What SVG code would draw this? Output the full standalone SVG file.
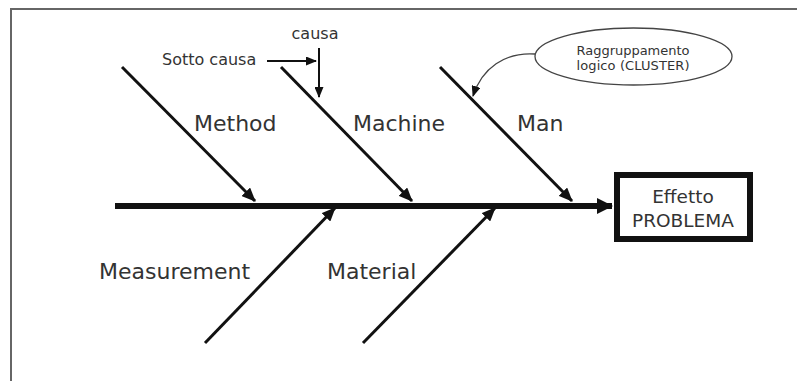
<svg xmlns="http://www.w3.org/2000/svg" width="797" height="381" viewBox="0 0 797 381">
  <style>
    .bone { stroke: #111; stroke-width: 3; fill: none; }
    .thin { stroke: #111; stroke-width: 2; fill: none; }
    .lbl { font-family: "DejaVu Sans", Verdana, sans-serif; fill: #333; }
    .cat { font-size: 22px; }
    .sub { font-size: 16px; }
  </style>
  <defs>
    <marker id="head" viewBox="0 0 14 12" refX="13" refY="6" markerWidth="14" markerHeight="12" markerUnits="userSpaceOnUse" orient="auto">
      <path d="M0,0 L14,6 L0,12 Z" fill="#111"/>
    </marker>
    <marker id="headBig" viewBox="0 0 16 16" refX="15" refY="8" markerWidth="16" markerHeight="16" markerUnits="userSpaceOnUse" orient="auto">
      <path d="M0,0 L16,8 L0,16 Z" fill="#111"/>
    </marker>
    <marker id="headSmall" viewBox="0 0 11 9" refX="10" refY="4.5" markerWidth="11" markerHeight="9" markerUnits="userSpaceOnUse" orient="auto">
      <path d="M0,0 L11,4.5 L0,9 Z" fill="#111"/>
    </marker>
  </defs>

  <rect width="797" height="381" fill="#fff"/>
  <!-- frame -->
  <path d="M11,381 V9 H797" fill="none" stroke="#666" stroke-width="2"/>

  <g id="connectors">
    <!-- spine -->
    <line x1="115" y1="206" x2="612" y2="206" stroke="#111" stroke-width="6" marker-end="url(#headBig)"/>
    <!-- upper bones -->
    <line class="bone" x1="122" y1="67" x2="255" y2="201" marker-end="url(#head)"/>
    <line class="bone" x1="281" y1="67" x2="412" y2="201" marker-end="url(#head)"/>
    <line class="bone" x1="440" y1="67" x2="572" y2="201" marker-end="url(#head)"/>
    <!-- lower bones -->
    <line class="bone" x1="205" y1="343" x2="335" y2="208" marker-end="url(#head)"/>
    <line class="bone" x1="363" y1="343" x2="495" y2="208" marker-end="url(#head)"/>
    <!-- sub-cause arrows -->
    <line class="thin" x1="267" y1="61" x2="316" y2="61" marker-end="url(#headSmall)"/>
    <line class="thin" x1="319" y1="48" x2="319" y2="97" marker-end="url(#headSmall)"/>
    <!-- cluster pointer -->
    <path d="M535,54 C505,52 482,68 473,96" fill="none" stroke="#444" stroke-width="1.3" marker-end="url(#headSmall)"/>
  </g>

  <g id="effect">
    <rect x="617" y="175" width="133" height="64" fill="#fff" stroke="#111" stroke-width="6"/>
    <text class="lbl" x="683" y="203" font-size="18.5" text-anchor="middle">Effetto</text>
    <text class="lbl" x="683" y="227" font-size="18.5" text-anchor="middle">PROBLEMA</text>
  </g>

  <g id="cluster">
    <ellipse cx="633.5" cy="56.5" rx="98.5" ry="28.5" fill="#fff" stroke="#444" stroke-width="1.3"/>
    <text class="lbl" x="633" y="55" font-size="13" text-anchor="middle" textLength="113">Raggruppamento</text>
    <text class="lbl" x="633" y="70" font-size="13" text-anchor="middle" textLength="113">logico (CLUSTER)</text>
  </g>

  <g id="method"><text class="lbl cat" x="194" y="131">Method</text></g>
  <g id="machine"><text class="lbl cat" x="353" y="131">Machine</text></g>
  <g id="man"><text class="lbl cat" x="517" y="131">Man</text></g>
  <g id="measurement"><text class="lbl cat" x="99" y="279">Measurement</text></g>
  <g id="material"><text class="lbl cat" x="327" y="279">Material</text></g>
  <g id="sotto-causa"><text class="lbl sub" x="162" y="65">Sotto causa</text></g>
  <g id="causa"><text class="lbl sub" x="315" y="39" text-anchor="middle">causa</text></g>
</svg>
